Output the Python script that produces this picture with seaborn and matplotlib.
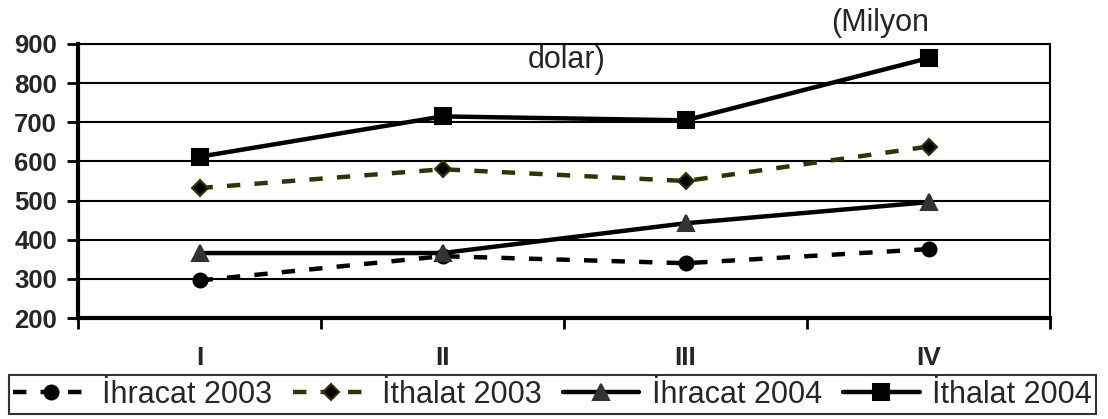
import pandas as pd
import matplotlib.pyplot as plt
from matplotlib.ticker import FixedLocator
import seaborn as sns

sns.set_theme(style="white")
plt.rcParams["font.family"] = ["Liberation Sans", "DejaVu Sans"]

quarters = ["I", "II", "III", "IV"]
ihracat_2003 = [296, 358, 340, 376]
ithalat_2003 = [532, 580, 550, 638]
ihracat_2004 = [366, 366, 442, 496]
ithalat_2004 = [612, 715, 705, 864]

series = {
    "İhracat 2003": ihracat_2003,
    "İthalat 2003": ithalat_2003,
    "İhracat 2004": ihracat_2004,
    "İthalat 2004": ithalat_2004,
}

rows = []
for name, vals in series.items():
    for i, v in enumerate(vals):
        rows.append({"seri": name, "q": i, "deger": v})
df = pd.DataFrame(rows)

styles = {
    "İhracat 2003": dict(color="black", dashes=(3, 3.2), marker="o", ms=10, mfc="black", mec="black"),
    "İthalat 2003": dict(color="#333300", dashes=(3, 3.2), marker="D", ms=8.5, mfc="black", mec="#333300"),
    "İhracat 2004": dict(color="black", dashes=None, marker="^", ms=11, mfc="#333333", mec="#333333"),
    "İthalat 2004": dict(color="black", dashes=None, marker="s", ms=12, mfc="black", mec="black"),
}

fig = plt.figure(figsize=(11.08, 4.19), dpi=100)
ax = fig.add_axes([0.0704, 0.241, 0.8773, 0.654])

for name in series:
    st = styles[name]
    sub = df[df["seri"] == name]
    sns.lineplot(data=sub, x="q", y="deger", ax=ax, color=st["color"], lw=3.2,
                 marker=st["marker"], markersize=st["ms"], markerfacecolor=st["mfc"],
                 markeredgecolor=st["mec"], markeredgewidth=1.5, label=name)
    line = ax.get_lines()[-1]
    if st["dashes"]:
        line.set_dashes(st["dashes"])
        line.set_dash_capstyle("butt")

ax.set_xlim(-0.5, 3.5)
ax.set_ylim(200, 900)
ax.set_yticks(range(200, 1000, 100))
ax.set_xticks(range(4))
ax.set_xticklabels(quarters)
ax.xaxis.set_minor_locator(FixedLocator([-0.5, 0.5, 1.5, 2.5, 3.5]))
ax.tick_params(axis="x", which="major", length=0, pad=20, labelsize=19)
ax.tick_params(axis="x", which="minor", length=8, width=2, direction="out", color="black", bottom=True)
ax.tick_params(axis="y", length=8, width=2, direction="out", color="black", pad=7, labelsize=18.5, left=True)
for lab in ax.get_xticklabels() + ax.get_yticklabels():
    lab.set_fontweight("bold")
ax.set_xlabel("")
ax.set_ylabel("")

ax.yaxis.grid(True, color="black", lw=1.5)
ax.set_axisbelow(True)
for side in ["left", "bottom"]:
    ax.spines[side].set_linewidth(3)
    ax.spines[side].set_color("black")
for side in ["top", "right"]:
    ax.spines[side].set_linewidth(1.5)
    ax.spines[side].set_color("black")

ax.legend_.remove()
handles, labels = ax.get_legend_handles_labels()
leg = fig.legend(handles, labels, loc="center", bbox_to_anchor=(0.4985, 0.058), ncol=4,
                 fontsize=22, frameon=True, fancybox=False, handlelength=2.5,
                 handletextpad=0.4, columnspacing=0.7, borderpad=0.15, borderaxespad=0)
leg.get_frame().set_edgecolor("black")
leg.get_frame().set_linewidth(1.5)

fig.text(0.75, 0.945, "(Milyon", fontsize=22, va="center", ha="left")
fig.text(0.476, 0.857, "dolar)", fontsize=22, va="center", ha="left")

fig.savefig("out.png", dpi=100)
